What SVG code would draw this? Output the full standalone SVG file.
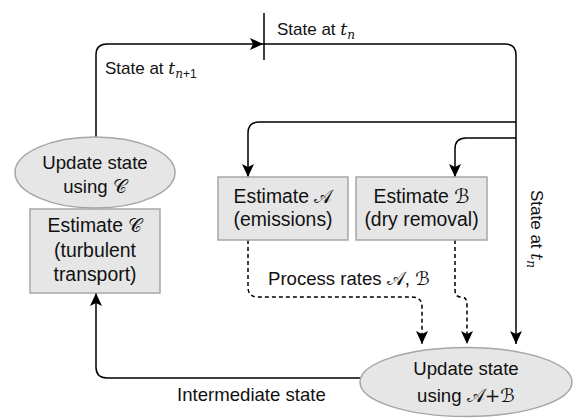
<svg xmlns="http://www.w3.org/2000/svg" width="574" height="419" viewBox="0 0 574 419">
<defs>
<marker id="arr" markerUnits="userSpaceOnUse" markerWidth="16" markerHeight="14" viewBox="-14 -7 16 14" refX="0" refY="0" orient="auto">
<path d="M0,0 L-13,-6 L-10,0 L-13,6 Z" fill="#000"/>
</marker>
</defs>
<style>
.t{font-family:"Liberation Sans",Arial,sans-serif;font-size:18.6px;fill:#111}
.s{font-size:17px}
.b{font-size:19.4px}
.m{font-family:"DejaVu Serif","Liberation Serif",serif;font-style:italic}
.c{font-family:"DejaVu Sans","Noto Sans",serif}
.box{fill:#e6e6e6;stroke:#a6a6a6;stroke-width:1.5}
.ln{fill:none;stroke:#000;stroke-width:1.5}
.dash{stroke-dasharray:4 3}
</style>
<g id="connectors">
<path class="ln" d="M96,137 L96,55 Q96,44 107,44 L263,44" marker-end="url(#arr)"/>
<path class="ln" d="M263,44 L505,44 Q516,44 516,55 L516,344" marker-end="url(#arr)"/>
<line class="ln" x1="264" y1="13" x2="264" y2="60"/>
<path class="ln" d="M516,122 L259,122 Q248,122 248,133 L248,177" marker-end="url(#arr)"/>
<path class="ln" d="M516,138 L466,138 Q455,138 455,149 L455,177" marker-end="url(#arr)"/>
<path class="ln dash" d="M248,240 L248,287 Q248,297 258,297 L412,297 Q422,297 422,307 L422,344" marker-end="url(#arr)"/>
<path class="ln dash" d="M455,240 L455,290 Q455,297 461,297 Q467,297 467,304 L467,344" marker-end="url(#arr)"/>
<path class="ln" d="M361,378 L107,378 Q96,378 96,367 L96,293" marker-end="url(#arr)"/>
</g>
<g id="labels">
<text class="t s" x="277" y="35">State at <tspan class="m">t</tspan><tspan class="m" font-size="12" dy="4">n</tspan></text>
<text class="t s" x="105" y="74">State at <tspan class="m">t</tspan><tspan class="m" font-size="12" dy="4">n</tspan><tspan font-size="12">+1</tspan></text>
<text class="t s" transform="translate(531,190) rotate(90)">State at <tspan class="m">t</tspan><tspan class="m" font-size="12" dy="4">n</tspan></text>
<text class="t" x="268" y="285">Process rates  <tspan class="c">𝒜</tspan>, <tspan class="c">ℬ</tspan></text>
<text class="t" x="177" y="401">Intermediate state</text>
</g>
<g id="update-c">
<ellipse class="box" cx="95" cy="172.5" rx="80" ry="35.5"/>
<text class="t" x="95" y="169" text-anchor="middle">Update state</text>
<text class="t" x="95" y="193" text-anchor="middle">using <tspan class="c">𝒞</tspan></text>
</g>
<g id="estimate-c">
<rect class="box" x="30" y="209" width="130" height="84"/>
<text class="t b" x="95" y="232" text-anchor="middle">Estimate <tspan class="c">𝒞</tspan></text>
<text class="t b" x="95" y="257" text-anchor="middle">(turbulent</text>
<text class="t b" x="95" y="281" text-anchor="middle">transport)</text>
</g>
<g id="estimate-a">
<rect class="box" x="218" y="177" width="130" height="63"/>
<text class="t b" x="283" y="203" text-anchor="middle">Estimate <tspan class="c">𝒜</tspan></text>
<text class="t b" x="283" y="226" text-anchor="middle">(emissions)</text>
</g>
<g id="estimate-b">
<rect class="box" x="356" y="177" width="131" height="63"/>
<text class="t b" x="421.5" y="203" text-anchor="middle">Estimate <tspan class="c">ℬ</tspan></text>
<text class="t b" x="421.5" y="226" text-anchor="middle">(dry removal)</text>
</g>
<g id="update-ab">
<ellipse class="box" cx="466" cy="382" rx="106" ry="34.5"/>
<text class="t" x="466" y="375" text-anchor="middle">Update state</text>
<text class="t" x="466" y="402" text-anchor="middle">using <tspan class="c">𝒜</tspan><tspan class="m" font-style="normal">+</tspan><tspan class="c">ℬ</tspan></text>
</g>
</svg>
